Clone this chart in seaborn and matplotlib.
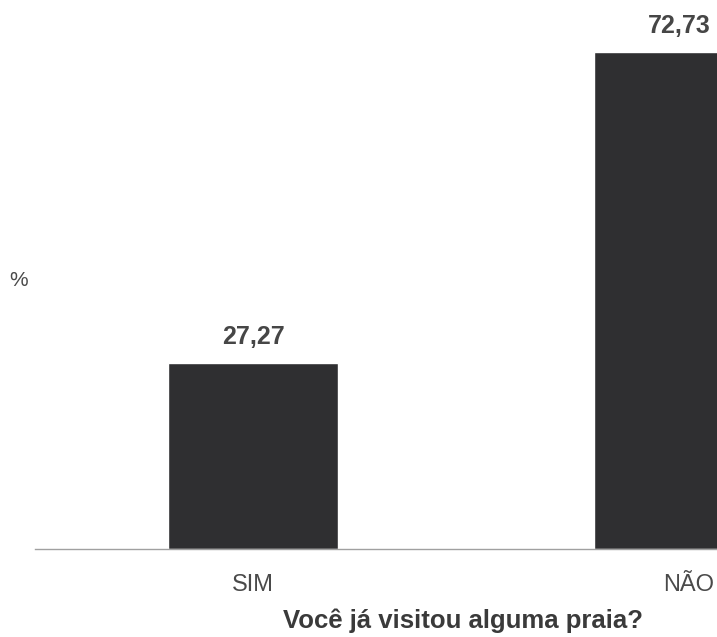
import matplotlib
matplotlib.use("Agg")
import matplotlib.pyplot as plt
import matplotlib.transforms as mtransforms
import seaborn as sns
import pandas as pd

categories = ["SIM", "NÃO"]
percentages = [27.27, 72.73]
value_labels = ["27,27", "72,73"]
xlabel_text = "Você já visitou alguma praia?"
ylabel_text = "%"

sns.set_theme(style="white")
plt.rcParams["font.family"] = ["Liberation Sans", "DejaVu Sans"]

df = pd.DataFrame({"categoria": categories, "pct": percentages})

W, H = 717, 637
fig = plt.figure(figsize=(W / 100, H / 100), dpi=100)
ax = fig.add_axes([35 / W, (H - 549) / H, (W - 35) / W, 549 / H])

sns.barplot(data=df, x="categoria", y="pct", order=categories,
            color="#2f2f31", saturation=1, width=0.4, ax=ax)

ax.set_xlim(-0.512, 1.089)
ax.set_ylim(0, 80.3)

for i, (v, lab) in enumerate(zip(percentages, value_labels)):
    ax.text(i, v + 2.0, lab, ha="center", va="bottom",
            fontsize=18, fontweight="bold", color="#464646")

for s in ["top", "right", "left"]:
    ax.spines[s].set_visible(False)
ax.spines["bottom"].set_color("#a0a0a0")
ax.spines["bottom"].set_linewidth(1.0)

ax.set_yticks([])
ax.set_ylabel("")
ax.set_xlabel("")
ax.tick_params(axis="x", length=0, pad=18, labelsize=17, labelcolor="#4a4a4a")

# nudge the right-hand category label toward the figure edge
shift = mtransforms.ScaledTranslation(10 / 100, 0, fig.dpi_scale_trans)
ticklabels = ax.get_xticklabels()
ticklabels[1].set_transform(ticklabels[1].get_transform() + shift)

fig.text(19 / W, 1 - 280 / H, ylabel_text, ha="center", va="center",
         fontsize=15, color="#4a4a4a")
fig.text(463 / W, 1 - 621 / H, xlabel_text, ha="center", va="center",
         fontsize=18.5, fontweight="bold", color="#3a3a3a")

fig.savefig("out.png", dpi=100, facecolor="white")
